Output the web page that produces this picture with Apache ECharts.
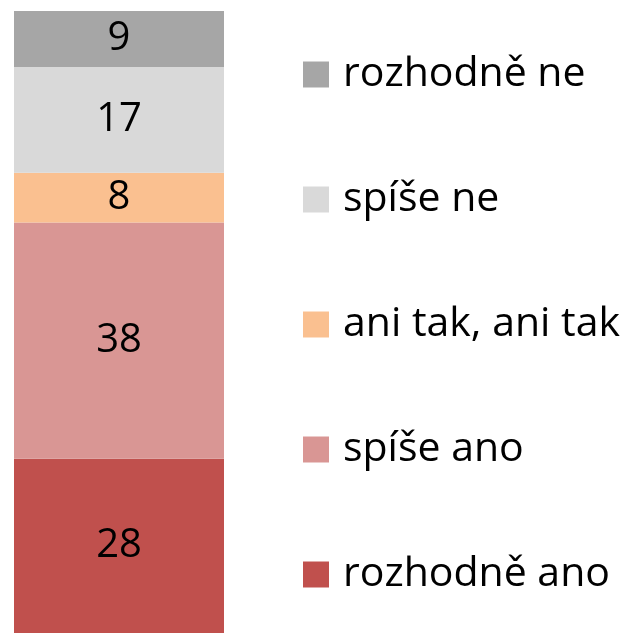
<!DOCTYPE html>
<html>
<head>
<meta charset="utf-8">
<script src="https://cdn.jsdelivr.net/npm/echarts@6/dist/echarts.min.js"></script>
<style>html,body{margin:0;padding:0;background:#fff}#c{width:633px;height:633px}</style>
</head>
<body>
<div id="c"></div>
<script>
const categories = [''];
const seriesNames = ['rozhodně ano', 'spíše ano', 'ani tak, ani tak', 'spíše ne', 'rozhodně ne'];
const seriesValues = [[28], [38], [8], [17], [9]];
const colors = ['#C0504D', '#D99694', '#FAC090', '#D9D9D9', '#A6A6A6'];
const FONT = 'Open Sans';

const chart = echarts.init(document.getElementById('c'), null, {renderer: 'canvas'});
chart.setOption({
  animation: false,
  grid: {left: 14, right: 409, top: 11, bottom: 0},
  xAxis: {type: 'category', data: categories, show: false},
  yAxis: {type: 'value', min: 0, max: 100, show: false},
  legend: {
    orient: 'vertical', left: 303, top: 54, padding: 0,
    itemWidth: 26, itemHeight: 26, itemGap: 84,
    icon: 'rect',
    data: seriesNames.slice().reverse(),
    textStyle: {fontFamily: FONT, fontSize: 41, color: '#000', lineHeight: 40, padding: [0, 0, 0, 9]}
  },
  series: seriesNames.map((n, i) => ({
    name: n, type: 'bar', stack: 'a', data: seriesValues[i],
    barWidth: '100%', barCategoryGap: 0,
    itemStyle: {color: colors[i]},
    label: {show: true, position: 'inside', color: '#000', fontFamily: FONT, fontSize: 40}
  }))
});
</script>
</body>
</html>
